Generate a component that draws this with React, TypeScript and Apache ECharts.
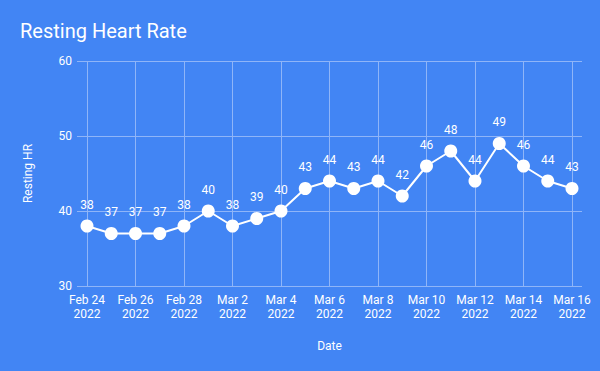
import React, { useEffect, useRef } from "react";
import * as echarts from "echarts";

const dates = [
  "Feb 24", "Feb 25", "Feb 26", "Feb 27", "Feb 28", "Mar 1", "Mar 2", "Mar 3", "Mar 4", "Mar 5",
  "Mar 6", "Mar 7", "Mar 8", "Mar 9", "Mar 10", "Mar 11", "Mar 12", "Mar 13", "Mar 14", "Mar 15", "Mar 16",
];
const year = "2022";
const restingHR = [38, 37, 37, 37, 38, 40, 38, 39, 40, 43, 44, 43, 44, 42, 46, 48, 44, 49, 46, 44, 43];
const yTicks = { min: 30, max: 60, interval: 10 };

const BG = "#4285F4";
const GRID = "#8fb5f8";
const TXT = "#ffffff";
const FONT = "Roboto, Arial, 'Liberation Sans', sans-serif";

export default function App() {
  const ref = useRef<HTMLDivElement>(null);
  useEffect(() => {
    const chart = echarts.init(ref.current!, null, { renderer: "svg" });
    chart.setOption({
      animation: false,
      backgroundColor: BG,
      textStyle: { fontFamily: FONT },
      title: {
        text: "Resting Heart Rate",
        left: 15,
        top: 16,
        textStyle: { color: TXT, fontSize: 20, fontWeight: "normal", fontFamily: FONT },
      },
      grid: [
        { left: 77, right: 18, top: 61, bottom: 85 },
        { left: 87, right: 28, top: 61, bottom: 85 },
      ],
      xAxis: [
        { type: "value", gridIndex: 0, show: false, min: 0, max: 1 },
        {
          type: "category",
          gridIndex: 1,
          data: dates,
          boundaryGap: false,
          axisLine: { show: false },
          axisTick: { show: false },
          splitLine: { show: true, interval: 1, lineStyle: { color: GRID, width: 1 } },
          axisLabel: {
            interval: 1,
            color: TXT,
            fontSize: 12,
            lineHeight: 14,
            margin: 7,
            fontFamily: FONT,
            formatter: (v: string) => v + "\n" + year,
          },
          name: "Date",
          nameLocation: "middle",
          nameGap: 54,
          nameTextStyle: { color: TXT, fontSize: 12, fontFamily: FONT },
        },
      ],
      yAxis: [
        {
          type: "value",
          gridIndex: 0,
          min: yTicks.min,
          max: yTicks.max,
          interval: yTicks.interval,
          axisLine: { show: false },
          axisTick: { show: false },
          splitLine: { show: true, lineStyle: { color: GRID, width: 1 } },
          axisLabel: { color: TXT, fontSize: 12, margin: 5, fontFamily: FONT },
          name: "Resting HR",
          nameLocation: "middle",
          nameGap: 43,
          nameTextStyle: { color: TXT, fontSize: 12, fontFamily: FONT },
        },
        {
          type: "value",
          gridIndex: 1,
          min: yTicks.min,
          max: yTicks.max,
          interval: yTicks.interval,
          show: false,
          splitLine: { show: false },
        },
      ],
      series: [
        {
          type: "line",
          xAxisIndex: 1,
          yAxisIndex: 1,
          data: restingHR,
          symbol: "circle",
          symbolSize: 13,
          itemStyle: { color: "#ffffff" },
          lineStyle: { color: "#ffffff", width: 2 },
          label: {
            show: true,
            position: "top",
            distance: 9,
            color: TXT,
            fontSize: 12,
            fontFamily: FONT,
          },
        },
      ],
    });
    return () => chart.dispose();
  }, []);
  return <div ref={ref} style={{ width: 600, height: 371, position: "absolute", left: 0, top: 0 }} />;
}
